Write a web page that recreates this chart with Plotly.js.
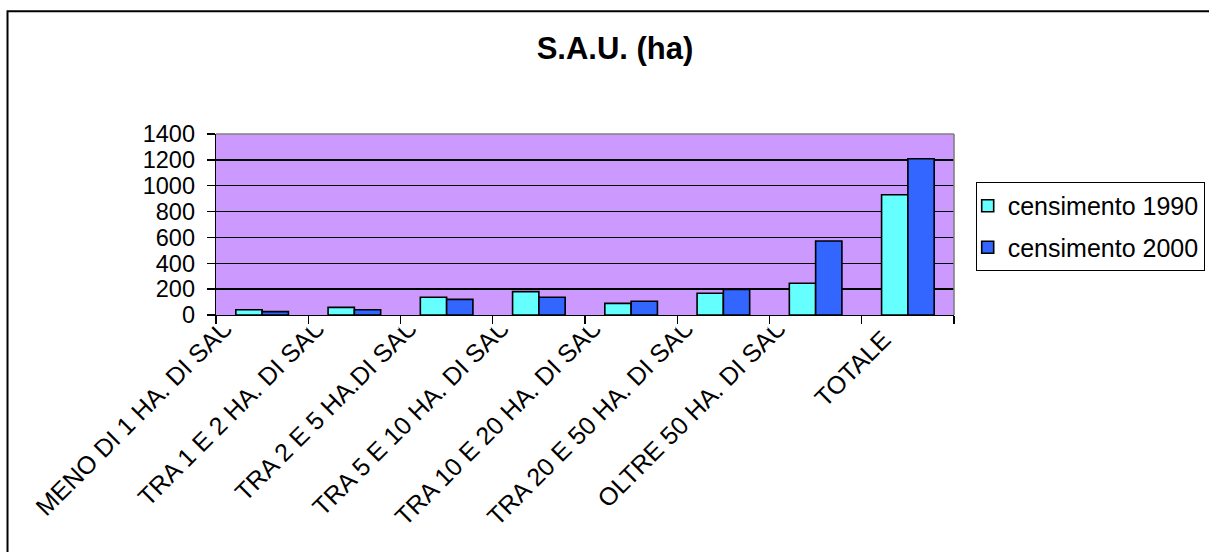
<!DOCTYPE html>
<html><head><meta charset="utf-8">
<script src="https://cdn.plot.ly/plotly-3.0.1.min.js"></script>
<style>html,body{margin:0;padding:0;background:#fff;}#chart{width:1209px;height:552px;}</style>
</head><body><div id="chart"></div>
<script>
const categories = ["MENO DI 1 HA. DI SAU","TRA 1 E 2 HA. DI SAU","TRA 2 E 5 HA.DI SAU","TRA 5 E 10 HA. DI SAU","TRA 10 E 20 HA. DI SAU","TRA 20 E 50 HA. DI SAU","OLTRE 50 HA. DI SAU","TOTALE"];
const census1990 = [41, 59, 137, 181, 90, 168, 246, 930];
const census2000 = [26, 41, 121, 137, 106, 197, 572, 1208];
const seriesNames = ["censimento 1990", "censimento 2000"];
const yTicks = [0, 200, 400, 600, 800, 1000, 1200, 1400];
const chartTitle = "S.A.U. (ha)";
const totalLabel = "TOTALE";

const FONT = "Arial, 'Liberation Sans', sans-serif";

const traces = [
  {type: "bar", name: seriesNames[0], x: categories, y: census1990, legendgroup: "a",
   marker: {color: "#66FFFF", line: {color: "#000", width: 1.6}}},
  {type: "bar", name: seriesNames[1], x: categories, y: census2000, legendgroup: "b",
   marker: {color: "#3366FF", line: {color: "#000", width: 1.6}}}
];

const tickFont = {family: FONT, size: 25, color: "#000"};

// Excel clips the long rotated labels just under the tick marks: white masks between ticks
const masks = categories.map((c, i) => ({
  type: "rect", xref: "x", yref: "paper", x0: i - 0.48, x1: i + 0.48,
  y0: -0.006, y1: -0.079, fillcolor: "#fff", line: {width: 0}, layer: "above"
}));

const layout = {
  width: 1209, height: 552,
  margin: {l: 216, r: 255, t: 134, b: 237, autoexpand: false},
  paper_bgcolor: "#fff", plot_bgcolor: "#CC99FF",
  font: {family: FONT, color: "#000"},
  title: {text: "<b>" + chartTitle + "</b>", font: {family: FONT, size: 31, color: "#000"},
          x: 0.5087, xref: "container", xanchor: "center", y: 0.912, yref: "container", yanchor: "middle"},
  barmode: "group", bargap: 0.43, bargroupgap: 0,
  showlegend: true,
  legend: {x: 1.0294, xanchor: "left", y: 0.735, yanchor: "top", bgcolor: "#fff",
           bordercolor: "#000", borderwidth: 1, font: {family: FONT, size: 25, color: "#000"},
           traceorder: "grouped", tracegroupgap: 6, indentation: -9},
  xaxis: {type: "category", tickson: "boundaries", ticks: "outside", ticklen: 8, tickwidth: 1.3,
          tickcolor: "#000", showline: true, linecolor: "#000", linewidth: 1.3, showgrid: false,
          tickmode: "array", tickvals: categories,
          ticktext: categories.map(c => c === totalLabel ? "" : c),
          tickangle: -45, tickfont: tickFont, ticklabelshift: -36, ticklabelstandoff: -14,
          automargin: false, fixedrange: true},
  yaxis: {range: [0, 1400], tickvals: yTicks, ticktext: yTicks.map(String), ticks: "outside", ticklen: 8, tickwidth: 1.3,
          tickcolor: "#000", showline: true, linecolor: "#000", linewidth: 1.3, showgrid: true,
          gridcolor: "#000", gridwidth: 1.3, zeroline: false, ticklabelstandoff: 7,
          tickfont: {family: FONT, size: 23.5, color: "#000"}, automargin: false, fixedrange: true},
  annotations: [
    {text: totalLabel, xref: "x", x: totalLabel, yref: "paper", y: -0.2945, xanchor: "center", yanchor: "middle",
     xshift: -55, textangle: -45, showarrow: false, font: tickFont}
  ],
  shapes: [
    {type: "line", xref: "paper", yref: "paper", x0: 0, x1: 1, y0: 1, y1: 1, line: {color: "#808080", width: 1.6}, layer: "above"},
    {type: "line", xref: "paper", yref: "paper", x0: 1, x1: 1, y0: 0, y1: 1, line: {color: "#808080", width: 1.6}, layer: "above"},
    ...masks,
    {type: "rect", xref: "paper", yref: "paper", x0: -0.2825, x1: 1.5, y0: 1.6787, y1: -1.5, fillcolor: "rgba(0,0,0,0)", line: {color: "#000", width: 2}, layer: "below"}
  ]
};

Plotly.newPlot("chart", traces, layout, {displayModeBar: false, staticPlot: true});
</script></body></html>
